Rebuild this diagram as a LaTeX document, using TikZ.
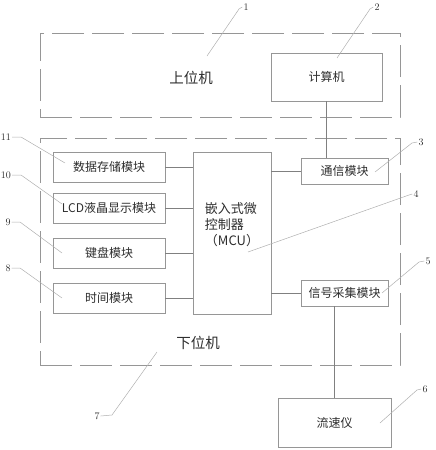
\documentclass[tikz,border=0pt]{standalone}
\usepackage{fontspec}
\newfontfamily\cjk{Noto Sans CJK SC}
\usetikzlibrary{calc,positioning}
\definecolor{framegray}{RGB}{150,150,150}
\definecolor{leadgray}{RGB}{175,175,175}
\definecolor{inkdark}{RGB}{45,45,45}

\begin{document}
\begin{tikzpicture}[x=1pt,y=-1pt,
  group/.style={draw=framegray,line width=0.8pt,dash pattern=on 32pt off 8pt,inner sep=0pt},
  module/.style={draw=framegray,line width=0.7pt,inner sep=0pt,text=inkdark,font=\cjk\fontsize{12}{14}\selectfont},
  title/.style={text=inkdark,font=\cjk\fontsize{14.5}{16}\selectfont},
  wire/.style={draw=framegray!85!black,line width=0.6pt},
  leader/.style={draw=leadgray,line width=0.5pt},
  tag/.style={text=inkdark,inner sep=1pt,font=\fontsize{10}{12}\selectfont}]
  \useasboundingbox (0,0) rectangle (436,450);

  % host and slave frames
  \node[group,minimum width=360pt,minimum height=84pt] (host) at (220,75) {};
  \node[group,minimum width=360pt,minimum height=227pt] (slave) at (220,251.5) {};
  \node[title] (hosttxt) at (191,78) {上位机};
  \node[title] (slavetxt) at (198,343) {下位机};

  % modules
  \node[module,minimum width=111pt,minimum height=48pt] (pc) at (326.5,77) {计算机};
  \node[module,minimum width=112pt,minimum height=30pt] (store) at (109,167) {数据存储模块};
  \node[module,minimum width=112pt,minimum height=30pt] (lcd) at (109,208) {LCD液晶显示模块};
  \node[module,minimum width=112pt,minimum height=30pt] (keys) at (109,253) {键盘模块};
  \node[module,minimum width=112pt,minimum height=30pt] (clock) at (109,298) {时间模块};
  \node[module,minimum width=78pt,minimum height=162pt] (mcu) at (232,233) {};
  \node[text=inkdark,align=left,font=\cjk\fontsize{13}{16}\selectfont] (mcutxt) at (232,225) {嵌入式微\\控制器\\（MCU）};
  \node[module,minimum width=87pt,minimum height=26pt] (comm) at (344.5,171) {通信模块};
  \node[module,minimum width=87pt,minimum height=26pt] (sig) at (344.5,293) {信号采集模块};
  \node[module,minimum width=113pt,minimum height=49pt] (flow) at (334.5,422.5) {流速仪};

  % connections
  \draw[wire] (store.east) -- (store.east -| mcu.west);
  \draw[wire] (lcd.east) -- (lcd.east -| mcu.west);
  \draw[wire] (keys.east) -- (keys.east -| mcu.west);
  \draw[wire] (clock.east) -- (clock.east -| mcu.west);
  \draw[wire] (comm.west -| mcu.east) -- (comm.west);
  \draw[wire] (sig.west -| mcu.east) -- (sig.west);
  \draw[wire] (pc.south) -- (pc.south |- comm.north);
  \draw[wire] (flow.north) -- (flow.north |- sig.south);

  % reference numbers
  \node[tag] (tag1) at (246,7) {1};
  \node[tag] (tag2) at (377,7) {2};
  \node[tag] (tag3) at (421,142) {3};
  \node[tag] (tag4) at (416,194) {4};
  \node[tag] (tag5) at (428,261) {5};
  \node[tag] (tag6) at (425,389) {6};
  \node[tag] (tag7) at (97,416) {7};
  \node[tag] (tag8) at (8,268) {8};
  \node[tag] (tag9) at (8,222) {9};
  \node[tag] (tag10) at (6,175) {10};
  \node[tag] (tag11) at (6,137) {11};

  \coordinate (p1) at (207,56);
  \coordinate (p2) at (337,58);
  \coordinate (p3) at (375,172);
  \coordinate (p4) at (248,252);
  \coordinate (p5) at (382,293);
  \coordinate (p6) at (380,423);
  \coordinate (p7) at (157,352);
  \coordinate (p8) at (62,298);
  \coordinate (p9) at (62,253);
  \coordinate (p10) at (62,204);
  \coordinate (p11) at (65,163);

  \draw[leader] (p1) -- (239,9) -- (tag1.west);
  \draw[leader] (p2) -- (370,9) -- (tag2.west);
  \draw[leader] (p3) -- (412,143) -- (tag3.west);
  \draw[leader] (p4) -- (409,195) -- (tag4.west);
  \draw[leader] (p5) -- (419,262) -- (tag5.west);
  \draw[leader] (p6) -- (417,390) -- (tag6.west);
  \draw[leader] (p7) -- (112,415) -- (tag7.east);
  \draw[leader] (p8) -- (20,268) -- (tag8.east);
  \draw[leader] (p9) -- (20,222) -- (tag9.east);
  \draw[leader] (p10) -- (21,175) -- (tag10.east);
  \draw[leader] (p11) -- (21,137) -- (tag11.east);
\end{tikzpicture}
\end{document}
